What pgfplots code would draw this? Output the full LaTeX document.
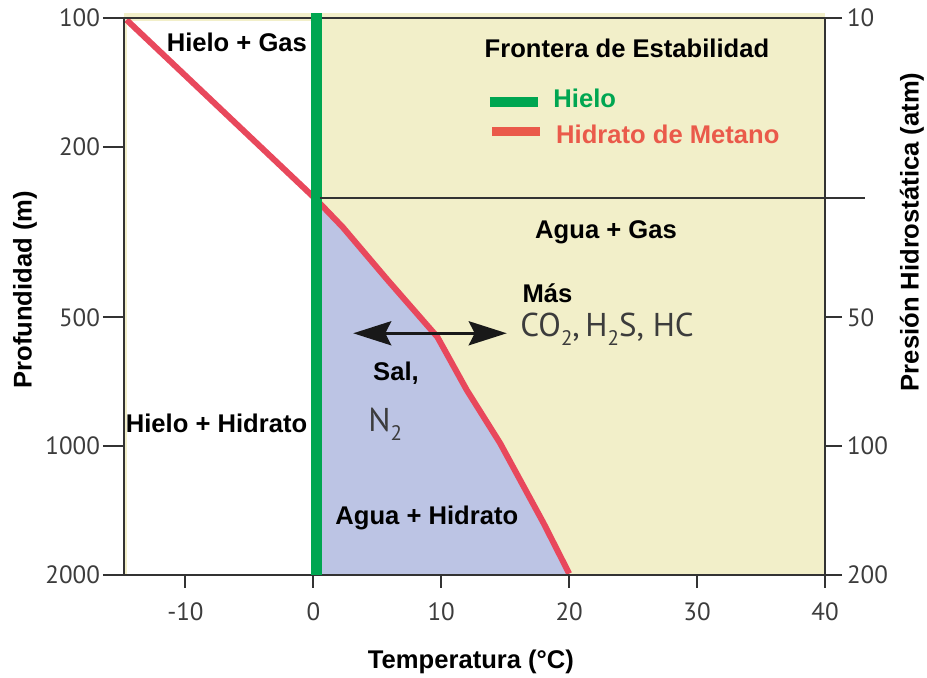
\documentclass[border=0pt]{standalone}
\usepackage{pgfplots}
\pgfplotsset{compat=1.18}
\usepackage{fontspec}
\setmainfont{Liberation Sans}
\newfontfamily\tickfont{PT Sans}
\usetikzlibrary{arrows.meta}

\definecolor{yellowbg}{HTML}{F2EFC9}
\definecolor{bluefill}{HTML}{BCC4E4}
\definecolor{redcurve}{HTML}{E8485C}
\definecolor{redlegend}{HTML}{EA5A4A}
\definecolor{greenline}{HTML}{00A651}
\definecolor{axisgray}{HTML}{333333}
\definecolor{textgray}{HTML}{3C3C3C}

% low, small subscript for chemical formulas
\newcommand{\chemsub}[1]{\raisebox{-0.55ex}{\fontsize{10.5}{11}\selectfont #1}}

\tikzset{
  lbl/.style={font=\bfseries\fontsize{12.8}{15}\selectfont, text=black, inner sep=0pt},
  ticklbl/.style={font=\tickfont\fontsize{12.5}{15}\selectfont, text=textgray},
}

\begin{document}
\begin{tikzpicture}
\useasboundingbox (-62pt,-51pt) rectangle (401.5pt,287.5pt);
% Phase regions and the methane hydrate stability boundary
\begin{axis}[scale only axis, width=350.5pt, height=278.5pt,
    xmin=-14.8, xmax=40, ymode=log, ymin=100, ymax=2000, y dir=reverse,
    clip=false, axis lines=none, ticks=none]
\addplot[draw=none, fill=yellowbg] coordinates {(-14.8,97.6) (40,97.6) (40,2000) (-14.8,2000)} -- cycle;
\addplot[draw=none, fill=white] coordinates {(-14.55,101.5) (0.2,101.5) (0.2,2000) (-14.55,2000)} -- cycle;
\addplot[draw=none, fill=bluefill] coordinates {(0.2,265) (2.3,308) (5.8,409) (9.7,556) (12.0,740) (14.6,984) (18.0,1513) (20.0,2000) (0.2,2000)} -- cycle;
\addplot[redcurve, line width=3pt, line join=round] coordinates {(-14.6,101) (0.2,265) (2.3,308) (5.8,409) (9.7,556) (12.0,740) (14.6,984) (18.0,1513) (20.0,1985)};
\end{axis}

% Frame, temperature axis, ice boundary and annotations
\begin{axis}[scale only axis, width=350.5pt, height=278.5pt,
  xmin=-14.8, xmax=40, ymode=log, ymin=100, ymax=2000, y dir=reverse,
  clip=false,
  axis line style={axisgray, line width=1pt},
  xtick={-10,0,10,20,30,40}, xticklabels={-10,0,10,20,30,40},
  xtick pos=bottom, ytick=\empty, minor ytick={},
  tick align=outside, major tick length=6.5pt,
  tick style={axisgray, line width=1pt},
  xticklabel style={ticklbl, yshift=-4pt}]
\addplot[greenline, line width=5.3pt] coordinates {(0.23,97.6) (0.23,2000)};
\addplot[axisgray, line width=1pt] coordinates {(0.5,263) (43.1,263)};

\draw[black!90, line width=1.6pt, {Stealth[length=19pt,width=12pt,inset=3pt]}-{Stealth[length=19pt,width=12pt,inset=3pt]}]
  (axis description cs:0.327,0.434) -- (axis description cs:0.546,0.434);

\node[lbl] at (axis description cs:0.161,0.957) {Hielo + Gas};
\node[lbl] at (axis description cs:0.7175,0.946) {Frontera de Estabilidad};
\draw[greenline, line width=5pt] (axis description cs:0.522,0.849) -- (axis description cs:0.590,0.849);
\node[lbl, text=greenline, anchor=west] at (axis description cs:0.612,0.856) {Hielo};
\draw[redlegend, line width=4.5pt] (axis description cs:0.525,0.797) -- (axis description cs:0.593,0.797);
\node[lbl, text=redlegend, anchor=west] at (axis description cs:0.616,0.792) {Hidrato de Metano};
\node[lbl] at (axis description cs:0.6876,0.616) {Agua + Gas};
\node[lbl, anchor=west] at (axis description cs:0.568,0.506) {Más};
\node[anchor=mid west, inner sep=0pt, text=textgray, font=\tickfont\fontsize{16.5}{20}\selectfont]
  at (axis description cs:0.565,0.437) {CO\chemsub{2},\,H\chemsub{2}S, HC};
\node[lbl] at (axis description cs:0.388,0.363) {Sal,};
\node[anchor=mid west, inner sep=0pt, text=textgray, font=\tickfont\fontsize{16.5}{20}\selectfont]
  at (axis description cs:0.348,0.268) {N\chemsub{2}};
\node[lbl] at (axis description cs:0.132,0.273) {Hielo + Hidrato};
\node[lbl] at (axis description cs:0.432,0.102) {Agua + Hidrato};

\node[lbl] at (axis description cs:0.495,-0.156) {Temperatura (°C)};
\end{axis}

% Depth axis
\begin{axis}[scale only axis, width=350.5pt, height=278.5pt,
  xmin=-14.8, xmax=40, ymode=log, ymin=100, ymax=2000, y dir=reverse,
  clip=false, hide x axis, axis y line*=left,
  axis line style={axisgray, line width=1pt},
  ytick={100,200,500,1000,2000}, yticklabels={100,200,500,1000,2000},
  minor ytick={},
  tick align=outside, major tick length=10.5pt,
  tick style={axisgray, line width=1pt},
  yticklabel style={ticklbl, xshift=2pt}]
\node[lbl, rotate=90] at (axis description cs:-0.1412,0.512) {Profundidad (m)};
\end{axis}

% Hydrostatic pressure axis
\begin{axis}[scale only axis, width=350.5pt, height=278.5pt, clip=false,
  xmin=-14.8, xmax=40, ymode=log, ymin=10, ymax=200, y dir=reverse,
  hide x axis, axis y line*=right,
  axis line style={axisgray, line width=1pt},
  ytick={10,50,100,200}, yticklabels={10,50,100,200},
  minor ytick={},
  tick align=outside, major tick length=8.5pt,
  tick style={axisgray, line width=1pt},
  yticklabel style={ticklbl, xshift=-1pt}]
\node[lbl, rotate=90] at (axis description cs:1.124,0.616) {Presión Hidrostática (atm)};
\end{axis}
\end{tikzpicture}
\end{document}
